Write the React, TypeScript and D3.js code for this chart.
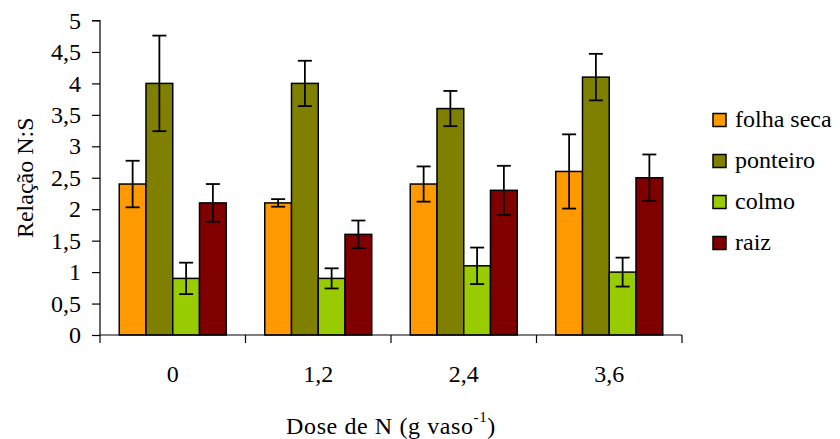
import * as d3 from "d3";
import React, { useRef, useEffect } from "react";

const doses = ["0", "1,2", "2,4", "3,6"];
const seriesNames = ["folha seca", "ponteiro", "colmo", "raiz"];
const seriesColors = ["#FF9900", "#808000", "#99CC00", "#800000"];

const folhaSeca = [2.4, 2.1, 2.4, 2.6];
const ponteiro = [4.0, 4.0, 3.6, 4.1];
const colmo = [0.9, 0.9, 1.1, 1.0];
const raiz = [2.1, 1.6, 2.3, 2.5];

const folhaSecaErr = [0.37, 0.06, 0.28, 0.59];
const ponteiroErr = [0.76, 0.36, 0.28, 0.37];
const colmoErr = [0.25, 0.16, 0.29, 0.23];
const raizErr = [0.3, 0.22, 0.39, 0.37];

const yTicks = [0, 0.5, 1, 1.5, 2, 2.5, 3, 3.5, 4, 4.5, 5];

const W = 840;
const H = 439;
const FONT = "Liberation Serif";

const Chart = () => {
  const ref = useRef(null);

  useEffect(() => {
    const svg = d3.select(ref.current);
    svg.selectAll("*").remove();

    const values = [folhaSeca, ponteiro, colmo, raiz];
    const errors = [folhaSecaErr, ponteiroErr, colmoErr, raizErr];

    const x = d3.scaleBand().domain(doses).range([100, 682]).paddingInner(0).paddingOuter(0);
    const xi = d3
      .scaleBand()
      .domain(seriesNames)
      .range([0, x.bandwidth()])
      .paddingInner(0)
      .paddingOuter(0.72);
    const y = d3.scaleLinear().domain([0, 5]).range([335, 20.5]);

    // bars
    seriesNames.forEach((name, s) => {
      const g = svg.append("g");
      g.selectAll("rect")
        .data(doses)
        .join("rect")
        .attr("x", (d) => x(d) + xi(name))
        .attr("y", (d, i) => y(values[s][i]))
        .attr("width", xi.bandwidth())
        .attr("height", (d, i) => y(0) - y(values[s][i]))
        .attr("fill", seriesColors[s])
        .attr("stroke", "#000")
        .attr("stroke-width", 1.5);

      // error bars
      const eb = svg.append("g").attr("stroke", "#000").attr("stroke-width", 1.8);
      doses.forEach((d, i) => {
        const cx = x(d) + xi(name) + xi.bandwidth() / 2;
        const top = y(values[s][i] + errors[s][i]);
        const bot = y(values[s][i] - errors[s][i]);
        eb.append("line").attr("x1", cx).attr("x2", cx).attr("y1", top).attr("y2", bot);
        eb.append("line").attr("x1", cx - 7).attr("x2", cx + 7).attr("y1", top).attr("y2", top);
        eb.append("line").attr("x1", cx - 7).attr("x2", cx + 7).attr("y1", bot).attr("y2", bot);
      });
    });

    // y axis
    const yAxis = svg
      .append("g")
      .attr("transform", "translate(100,0)")
      .call(
        d3
          .axisLeft(y)
          .tickValues(yTicks)
          .tickSize(8)
          .tickPadding(11)
          .tickFormat((d) => String(d).replace(".", ","))
      );
    yAxis.attr("font-family", null).attr("font-size", null);
    yAxis.selectAll("path,line").attr("stroke", "#000").attr("stroke-width", 1.2);
    yAxis.select("path").attr("d", `M-8,${y(5)}H0V${y(0)}`);
    yAxis.selectAll("text").attr("fill", "#000");

    // x axis
    const boundaries = doses.map((d) => x(d)).concat([x(doses[doses.length - 1]) + x.bandwidth()]);
    const xg = svg.append("g");
    xg.append("line")
      .attr("x1", 100)
      .attr("x2", 682)
      .attr("y1", y(0))
      .attr("y2", y(0))
      .attr("stroke", "#000")
      .attr("stroke-width", 1.2);
    xg.selectAll("line.tick")
      .data(boundaries)
      .join("line")
      .attr("class", "tick")
      .attr("x1", (d) => d)
      .attr("x2", (d) => d)
      .attr("y1", y(0))
      .attr("y2", y(0) + 8)
      .attr("stroke", "#000")
      .attr("stroke-width", 1.2);
    xg.selectAll("text")
      .data(doses)
      .join("text")
      .attr("x", (d) => x(d) + x.bandwidth() / 2)
      .attr("y", 382)
      .attr("text-anchor", "middle")
      .text((d) => d);

    // axis titles
    const xt = svg
      .append("text")
      .attr("x", 391)
      .attr("y", 434)
      .attr("text-anchor", "middle")
      .attr("letter-spacing", 0.6);
    xt.append("tspan").text("Dose de N (g vaso");
    xt.append("tspan").attr("dy", -12).attr("font-size", 15).text("-1");
    xt.append("tspan").attr("dy", 12).text(")");

    svg
      .append("text")
      .attr("transform", `translate(33,${(y(0) + y(5)) / 2}) rotate(-90)`)
      .attr("text-anchor", "middle")
      .text("Relação N:S");

    // legend
    const lg = svg.append("g");
    seriesNames.forEach((name, s) => {
      const cy = 120 + s * 41;
      lg.append("rect")
        .attr("x", 713)
        .attr("y", cy - 6.5)
        .attr("width", 13)
        .attr("height", 13)
        .attr("fill", seriesColors[s])
        .attr("stroke", "#000")
        .attr("stroke-width", 1.5);
      lg.append("text")
        .attr("x", 735)
        .attr("y", cy + 7)
        .text(name);
    });
  }, []);

  return (
    <svg
      ref={ref}
      width={W}
      height={H}
      style={{ display: "block", background: "#fff", fontFamily: FONT, fontSize: 24 }}
    />
  );
};

export default function App() {
  return (
    <>
      <style>{`body{margin:0}`}</style>
      <Chart />
    </>
  );
}
